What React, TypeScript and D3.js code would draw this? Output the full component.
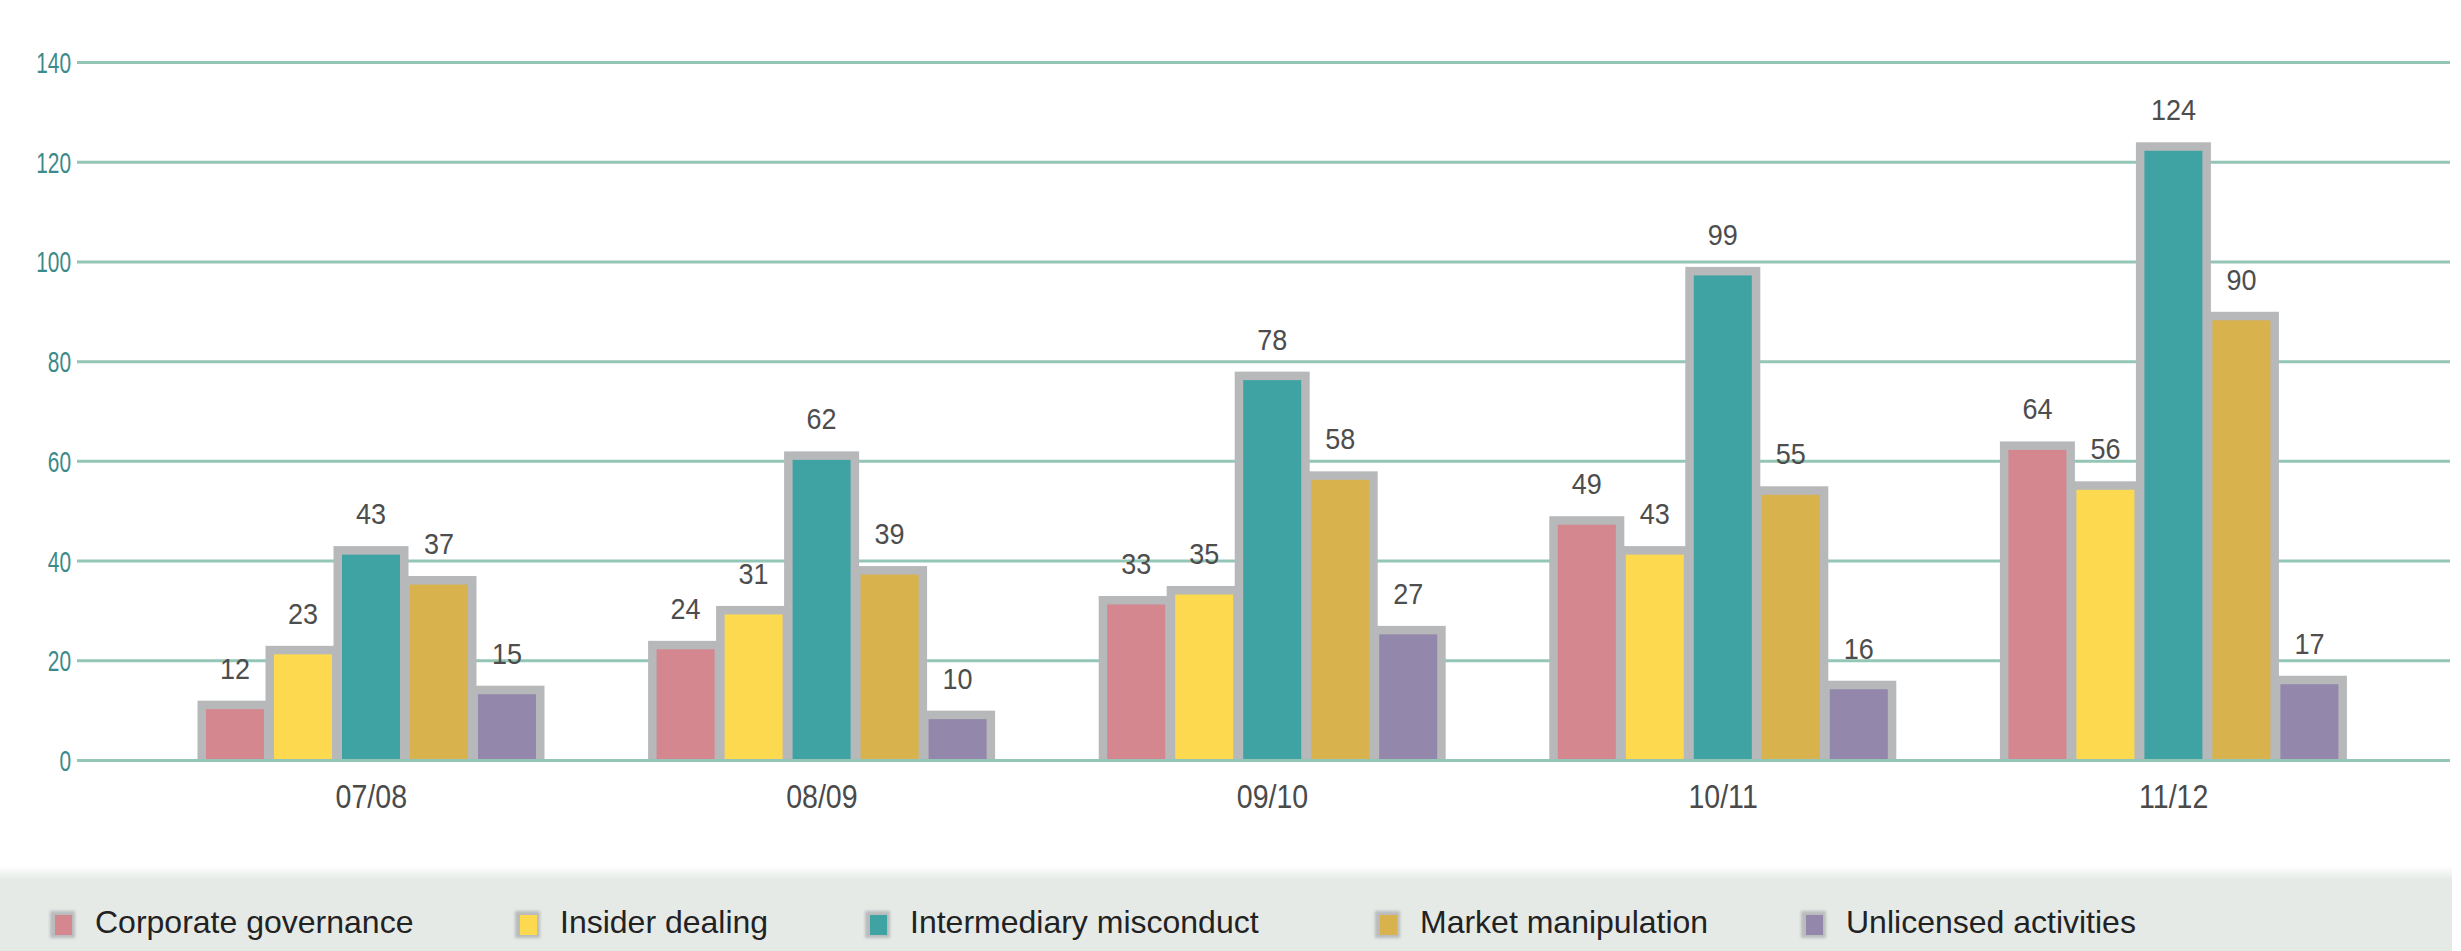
import React from 'react';
import * as d3 from 'd3';

// financial years
const years = ['07/08', '08/09', '09/10', '10/11', '11/12'];
const seriesNames = [
  'Corporate governance',
  'Insider dealing',
  'Intermediary misconduct',
  'Market manipulation',
  'Unlicensed activities',
];
const corporateGovernance = [12, 24, 33, 49, 64];
const insiderDealing = [23, 31, 35, 43, 56];
const intermediaryMisconduct = [43, 62, 78, 99, 124];
const marketManipulation = [37, 39, 58, 55, 90];
const unlicensedActivities = [15, 10, 27, 16, 17];
const yTicks = [0, 20, 40, 60, 80, 100, 120, 140];

const seriesValues = [
  corporateGovernance,
  insiderDealing,
  intermediaryMisconduct,
  marketManipulation,
  unlicensedActivities,
];
const colors = ['#d4878e', '#fcd94f', '#3fa3a4', '#d8b24c', '#9387ab'];

const W = 2461;
const H = 951;
const font = '"Liberation Sans", Arial, Helvetica, sans-serif';

// condensed-looking label: squeeze text horizontally around its anchor
const Squeezed = ({ x, y, sx, children, ...rest }: any) => (
  <text transform={`translate(${x},${y}) scale(${sx},1)`} fontFamily={font} {...rest}>
    {children}
  </text>
);

export default function App() {
  const y = d3.scaleLinear().domain([0, 140]).range([760.5, 62.5]);
  const x0 = d3.scaleBand<string>().domain(years).range([146, 2399]);
  const x1 = d3
    .scaleBand<string>()
    .domain(seriesNames)
    .range([55, 395])
    .paddingInner(0.147)
    .paddingOuter(0.0735);
  const frame = 8.5; // grey border round each bar

  // legend text start positions
  const legendX = [95, 560, 910, 1420, 1846];

  return (
    <svg width={W} height={H} style={{ position: 'absolute', left: 0, top: 0, background: '#fff' }}>
      <defs>
        <linearGradient id="panelFade" x1="0" y1="0" x2="0" y2="1">
          <stop offset="0" stopColor="#ffffff" />
          <stop offset="1" stopColor="#e5eae7" />
        </linearGradient>
        <filter id="soft" x="-20%" y="-20%" width="140%" height="140%">
          <feGaussianBlur stdDeviation="1.5" />
        </filter>
      </defs>

      {/* gridlines + tick labels */}
      {yTicks.map((t) => (
        <g key={t}>
          <line x1={77} x2={2450} y1={y(t)} y2={y(t)} stroke="#93c6b6" strokeWidth={3} />
          <Squeezed x={71} y={y(t) + 10.5} sx={0.72} textAnchor="end" fontSize={29} fill="#3c8a8a">
            {t}
          </Squeezed>
        </g>
      ))}

      {/* bars */}
      {years.map((yr, i) => {
        const gx = x0(yr)!;
        return (
          <g key={yr} transform={`translate(${gx},0)`}>
            {seriesNames.map((s, j) => {
              const v = seriesValues[j][i];
              const bx = x1(s)!;
              return (
                <rect
                  key={'g' + s}
                  x={bx - frame}
                  y={y(v)}
                  width={x1.bandwidth() + frame * 2}
                  height={y(0) - y(v)}
                  fill="#b7b8ba"
                />
              );
            })}
            {seriesNames.map((s, j) => {
              const v = seriesValues[j][i];
              const bx = x1(s)!;
              return (
                <rect
                  key={'c' + s}
                  x={bx}
                  y={y(v) + frame}
                  width={x1.bandwidth()}
                  height={Math.max(0, y(0) - y(v) - frame)}
                  fill={colors[j]}
                />
              );
            })}
            {seriesNames.map((s, j) => {
              const v = seriesValues[j][i];
              return (
                <Squeezed
                  key={'t' + s}
                  x={x1(s)! + x1.bandwidth() / 2}
                  y={y(v) - 22}
                  sx={0.9}
                  textAnchor="middle"
                  fontSize={30}
                  fill="#4d4d4d"
                >
                  {v}
                </Squeezed>
              );
            })}
            <Squeezed
              x={x0.bandwidth() / 2}
              y={808}
              sx={0.84}
              textAnchor="middle"
              fontSize={34}
              fill="#4a4a4a"
            >
              {yr}
            </Squeezed>
          </g>
        );
      })}

      {/* baseline over bar bottoms */}
      <line x1={77} x2={2450} y1={y(0)} y2={y(0)} stroke="#93c6b6" strokeWidth={3} />

      {/* legend panel */}
      <rect x={0} y={866} width={2452} height={14} fill="url(#panelFade)" />
      <rect x={0} y={879} width={2452} height={H - 879} fill="#e5eae7" />
      {seriesNames.map((s, j) => (
        <g key={s}>
          <rect x={legendX[j] - 45} y={911} width={25} height={27} fill="#b9bbbc" filter="url(#soft)" />
          <rect x={legendX[j] - 40} y={915} width={17} height={20} fill={colors[j]} />
          <text x={legendX[j]} y={933} fontFamily={font} fontSize={32} fill="#222">
            {s}
          </text>
        </g>
      ))}
    </svg>
  );
}
